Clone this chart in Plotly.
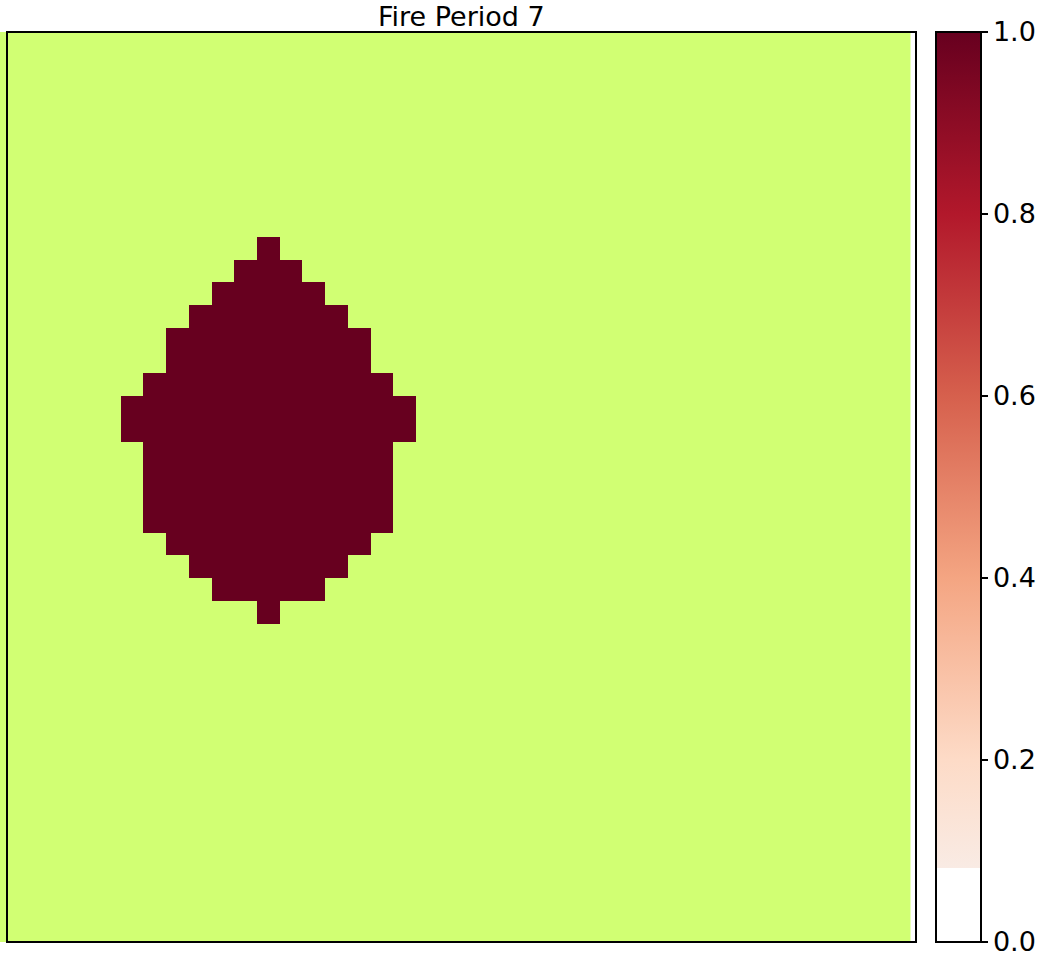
import plotly.graph_objects as go

# Grid size (cells)
n_rows = 40
n_cols = 40

# Burned cells per row: row index, first column, last column
fire_rows =      [9, 10, 11, 12, 13, 14, 15, 16, 17, 18, 19, 20, 21, 22, 23, 24, 25]
fire_col_start = [11, 10, 9,  8,  7,  7,  6,  5,  5,  6,  6,  6,  6,  7,  8,  9, 11]
fire_col_end =   [11, 12, 13, 14, 15, 15, 16, 17, 17, 16, 16, 16, 16, 15, 14, 13, 11]

title = "Fire Period 7"
cbar_ticks = [0.0, 0.2, 0.4, 0.6, 0.8, 1.0]
cbar_ticktext = ["0.0", "0.2", "0.4", "0.6", "0.8", "1.0"]

z = [[None] * n_cols for _ in range(n_rows)]
for r, c0, c1 in zip(fire_rows, fire_col_start, fire_col_end):
    for c in range(c0, c1 + 1):
        z[r][c] = 1.0

# Red half of RdBu_r, lowest bin white
colorscale = [
    [0.0, "#ffffff"], [0.081, "#ffffff"],
    [0.081, "#f9ebe4"], [0.2, "#fddbc7"], [0.4, "#f4a582"],
    [0.6, "#d6604d"], [0.8, "#b2182b"], [1.0, "#67001f"],
]

W, H = 1040, 960
PL, PR, T, B = 0, 916, 32, 942      # plotting area (includes strip left of frame)
FL = 7                               # frame left edge
pw = PR - PL
cell = (PR - FL) / n_cols
x_lo = -0.5 - (FL - PL) / cell
green = "#d1ff73"

fig = go.Figure()
fig.add_trace(go.Heatmap(
    z=z, x=list(range(n_cols)), y=list(range(n_rows)),
    zmin=0, zmax=1, colorscale=colorscale, hoverongaps=False,
    colorbar=dict(
        x=(936 - PL) / pw, xanchor="left", xpad=0,
        y=0.5, yanchor="middle", len=1, lenmode="fraction", ypad=0,
        thickness=45, thicknessmode="pixels",
        outlinecolor="black", outlinewidth=2,
        tickmode="array", tickvals=cbar_ticks, ticktext=cbar_ticktext,
        ticks="outside", ticklen=6, tickwidth=2, tickcolor="black",
        tickfont=dict(family="DejaVu Sans", size=27, color="black"),
    ),
))

fig.update_layout(
    width=W, height=H,
    margin=dict(l=PL, r=W - PR, t=T, b=H - B, autoexpand=False),
    paper_bgcolor="white", plot_bgcolor="rgba(0,0,0,0)",
    showlegend=False,
    shapes=[
        dict(type="rect", xref="paper", yref="paper",
             x0=0, x1=(910.5 - PL) / pw, y0=0, y1=1,
             fillcolor=green, line=dict(width=0), layer="below"),
        dict(type="rect", xref="paper", yref="paper",
             x0=(FL - PL) / pw, x1=1, y0=0, y1=1,
             fillcolor="rgba(0,0,0,0)", line=dict(color="black", width=2), layer="above"),
    ],
    annotations=[dict(
        text=title, xref="paper", yref="paper", x=((FL + PR) / 2 - PL) / pw, y=1,
        xanchor="center", yanchor="bottom", yshift=-2, showarrow=False,
        font=dict(family="DejaVu Sans", size=27, color="black"),
    )],
)
fig.update_xaxes(range=[x_lo, n_cols - 0.5], showticklabels=False, ticks="",
                 showgrid=False, zeroline=False, showline=False)
fig.update_yaxes(range=[n_rows - 0.5, -0.5], showticklabels=False, ticks="",
                 showgrid=False, zeroline=False, showline=False)

fig.write_html("out.html")
